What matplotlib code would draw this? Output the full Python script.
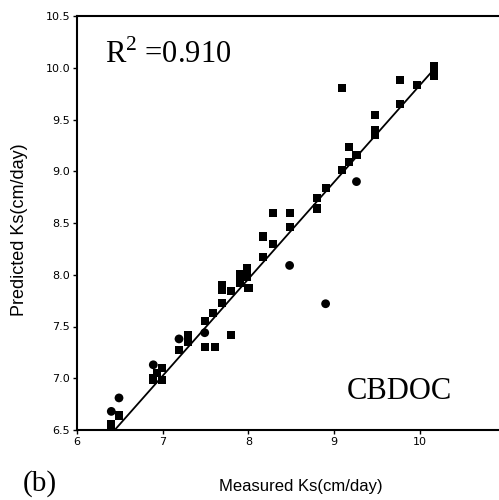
import matplotlib
matplotlib.use("Agg")
import matplotlib.pyplot as plt
import numpy as np

# ── Data ─────────────────────────────────────────────────────────────────────

# points drawn as (rounded) squares
sq_measured = [6.40, 6.40, 6.49, 6.89, 6.93, 6.99, 6.99, 6.89, 7.19, 7.30,
               7.30, 7.49, 7.49, 7.59, 7.61, 7.69, 7.69, 7.69, 7.80, 7.80,
               7.90, 7.90, 7.90, 7.98, 7.98, 8.00, 8.17, 8.17, 8.29, 8.29,
               8.48, 8.48, 8.80, 8.80, 8.90, 9.09, 9.09, 9.17, 9.17, 9.26,
               9.48, 9.48, 9.48, 9.77, 9.77, 9.97, 10.16, 10.16, 10.16]
sq_predicted = [6.53, 6.56, 6.64, 7.00, 7.05, 7.10, 6.98, 6.98, 7.27, 7.42,
                7.35, 7.55, 7.30, 7.63, 7.30, 7.73, 7.85, 7.90, 7.84, 7.42,
                7.92, 7.95, 8.01, 7.98, 8.06, 7.87, 8.17, 8.37, 8.30, 8.60,
                8.46, 8.60, 8.64, 8.74, 8.84, 9.01, 9.80, 9.09, 9.23, 9.16,
                9.35, 9.40, 9.54, 9.65, 9.88, 9.83, 9.92, 9.97, 10.02]

# points drawn as dots
dot_measured = [6.40, 6.49, 6.89, 7.19, 7.49, 8.48, 8.90, 9.26]
dot_predicted = [6.68, 6.81, 7.13, 7.38, 7.44, 8.09, 7.72, 8.90]

# fitted line
fit_x = [6.44, 10.19]
fit_y = [6.50, 10.01]

x_ticks = [6, 7, 8, 9, 10, 11]
y_ticks = [6.5, 7.0, 7.5, 8.0, 8.5, 9.0, 9.5, 10.0, 10.5]

r2_text = "R$^2$ =0.910"
panel_name = "CBDOC"

# ── Figure ───────────────────────────────────────────────────────────────────

plt.rcParams["mathtext.fontset"] = "custom"
plt.rcParams["mathtext.rm"] = "Liberation Serif"

fig = plt.figure(figsize=(4.99, 5.0), dpi=100)
# the right edge (x = 11) runs just past the picture, as in the scan
ax = fig.add_axes([0.1543, 0.14, 0.859, 0.828])

ax.plot(fit_x, fit_y, color="black", lw=1.3, zorder=2)
ax.scatter(sq_measured, sq_predicted, marker="s", s=34, color="black",
           edgecolors="none", zorder=3)
ax.scatter(dot_measured, dot_predicted, marker="o", s=40, color="black",
           edgecolors="none", zorder=3)

ax.set_xlim(6, 11)
ax.set_ylim(6.5, 10.5)
ax.set_xticks(x_ticks)
ax.set_yticks(y_ticks)
ax.set_xticklabels([str(t) for t in x_ticks])
ax.set_yticklabels([f"{t:.1f}" for t in y_ticks])

tick_font = ["Liberation Sans Narrow", "DejaVu Sans"]
for lab in ax.get_xticklabels() + ax.get_yticklabels():
    lab.set_family(tick_font)
    lab.set_fontsize(8)
ax.tick_params(direction="out", length=3, width=1, pad=2)
for side in ["left", "bottom", "top"]:
    ax.spines[side].set_linewidth(1.5)
ax.spines["right"].set_visible(False)

ax.text(6.33, 10.05, r2_text, family="Liberation Serif", fontsize=22,
        va="baseline", ha="left")
ax.text(10.37, 6.8, panel_name, family="Liberation Serif", fontsize=22,
        va="baseline", ha="right")

fig.text(0.603, 0.018, "Measured Ks(cm/day)", family="Liberation Sans",
         fontsize=12, ha="center", va="baseline")
fig.text(0.04, 0.54, "Predicted Ks(cm/day)", family="Liberation Sans",
         fontsize=13, rotation=90, ha="center", va="center")
fig.text(0.045, 0.018, "(b)", family="Liberation Serif", fontsize=21,
         ha="left", va="baseline")

fig.savefig("out.png", dpi=100)
